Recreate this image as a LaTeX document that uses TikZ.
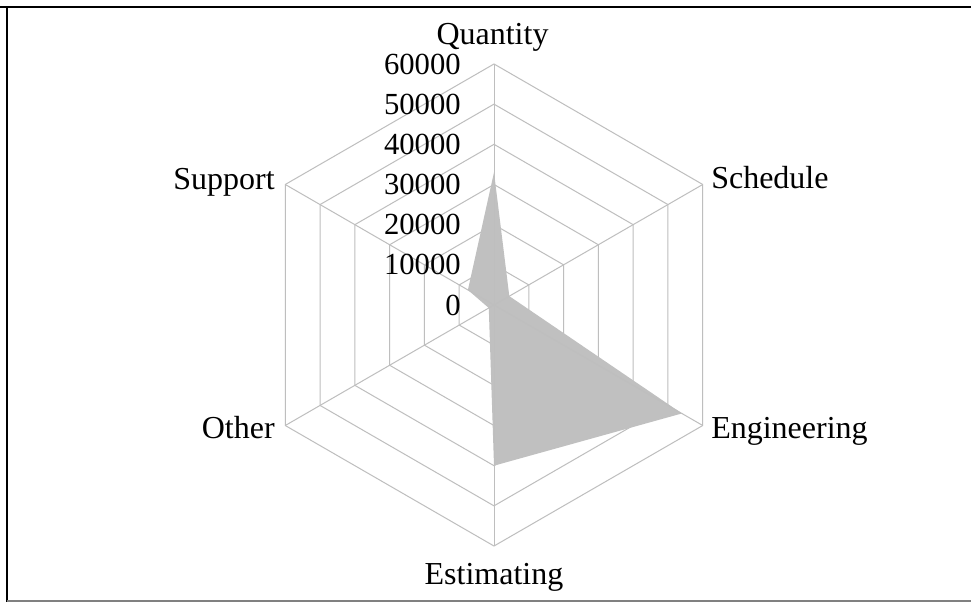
\documentclass[tikz,border=0pt]{standalone}
\usepackage{fontspec}
\setmainfont{Liberation Serif}
\definecolor{gridgray}{RGB}{190,190,190}
\definecolor{areagray}{RGB}{192,192,192}
\definecolor{framegray}{RGB}{128,128,128}
\begin{document}
\begin{tikzpicture}[x=0.75pt,y=-0.75pt,
  gridline/.style={draw=gridgray, line width=0.75pt},
  lbl/.style={font=\fontsize{24}{28}\selectfont, inner sep=0pt},
  ticklbl/.style={font=\fontsize{23}{27}\selectfont, inner sep=0pt, anchor=east},
]
\useasboundingbox (0,0) rectangle (971,602);
\fill[white] (0,0) rectangle (971,602);
% frame
\draw[black, line width=1.6pt] (0,7) -- (971,7);
\draw[black, line width=1.6pt] (7,7) -- (7,602);
\draw[framegray, line width=1.8pt] (7,600.8) -- (971,600.8);
\begin{scope}[shift={(494,305)}]
  \def\u{40.17}
  % rings
  \foreach \k in {1,...,6}{
    \pgfmathsetmacro{\r}{\k*\u}
    \draw[gridline] (-90:\r) -- (-30:\r) -- (30:\r) -- (90:\r) -- (150:\r) -- (210:\r) -- cycle;
  }
  % data area
  \fill[areagray] (-90:{3.3*\u}) -- (-30:{0.44*\u}) -- (30:{5.4*\u}) -- (90:{4.0*\u}) -- (150:{0.15*\u}) -- (210:{0.75*\u}) -- cycle;
  % axes
  \foreach \a in {-90,-30,30,90,150,210}{
    \draw[gridline] (0,0) -- (\a:{6*\u});
  }
\end{scope}
% tick labels
\foreach \k/\t in {0/0,1/10000,2/20000,3/30000,4/40000,5/50000,6/60000}{
  \node[ticklbl] (tick\k) at (461,{305-\k*40.17}) {\t};
}
% axis labels
\node[lbl, anchor=base] (quantity) at (492.5,45) {Quantity};
\node[lbl, anchor=base west] (schedule) at (711,189) {Schedule};
\node[lbl, anchor=base west] (engineering) at (711,438) {Engineering};
\node[lbl, anchor=base] (estimating) at (494,584) {Estimating};
\node[lbl, anchor=base east] (support) at (275,190) {Support};
\node[lbl, anchor=base east] (other) at (275,438) {Other};
\end{tikzpicture}
\end{document}
